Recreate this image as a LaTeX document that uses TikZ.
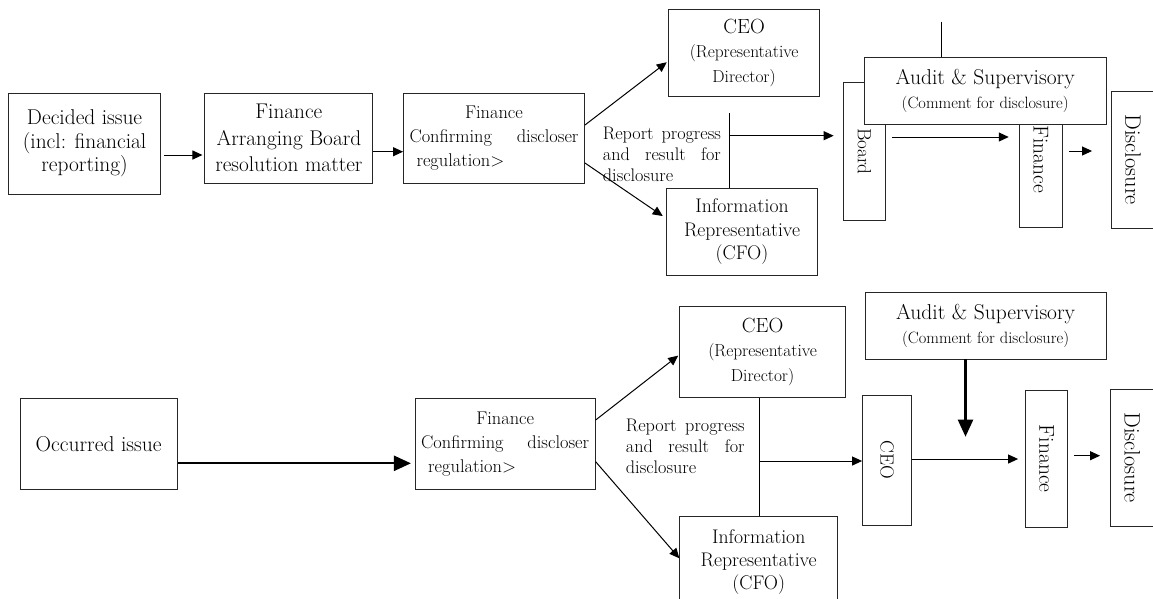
\documentclass[tikz,border=0pt]{standalone}
\usepackage{graphicx}
\usetikzlibrary{arrows.meta}

\begin{document}
\begin{tikzpicture}[x=1pt,y=-1pt,
  box/.style={draw=black!85,line width=0.9pt,fill=white,inner sep=0pt,align=center},
  txt/.style={inner sep=0pt,align=left,anchor=west,font=\fontsize{18.2}{21}\selectfont},
  arr/.style={-{Triangle[length=10pt,width=9pt]},line width=1pt},
  bigarr/.style={-{Triangle[length=17pt,width=15pt]},line width=2.3pt}]

            \useasboundingbox (0,0) rectangle (1153,598);
            \clip (0,0) rectangle (1153,598);

            \node[box,minimum width=152pt,minimum height=101pt,font=\fontsize{21.4}{23.5}\selectfont] (1) at (84.6,143.7) {Decided issue\\(incl: financial\\reporting)};
            \node[box,minimum width=168pt,minimum height=90pt,font=\fontsize{21.3}{26.5}\selectfont] (2) at (288.9,138.3) {Finance\\Arranging Board\\resolution matter};
            \node[box,minimum width=181pt,minimum height=90pt,font=\fontsize{18.4}{24}\selectfont] (3) at (494,138.3) {Finance\\\hbox to 169pt{Confirming\hfill discloser}\\\hbox to 169pt{\hspace{7pt}regulation\textgreater\hfill}};
            \node[box,minimum width=150.6pt,minimum height=87.4pt,font=\fontsize{17.4}{24.5}\selectfont] (4) at (744.1,53) {{\fontsize{20.5}{24.5}\selectfont CEO}\\(Representative\\Director)};
            \node[box,minimum width=151pt,minimum height=86.7pt,font=\fontsize{19.7}{23.3}\selectfont] (5) at (742,231.7) {Information\\Representative\\(CFO)};
            \node[txt] (6) at (602.7,154) {\hbox to 118pt{Report progress}\\\hbox to 118pt{and\hfill result\hfill for}\\disclosure};
            \node[box,minimum width=42.8pt,minimum height=137.3pt,font=\fontsize{19.1}{22}\selectfont] (7) at (864.5,151.3) {\rotatebox{-90}{Board}};
            \node[box,minimum width=43.2pt,minimum height=136.7pt,font=\fontsize{21.5}{24}\selectfont] (8) at (1040.8,159.3) {\rotatebox{-90}{Finance}};
            \node[box,minimum width=43pt,minimum height=137.3pt,font=\fontsize{22.3}{24}\selectfont] (9) at (1133,159.7) {\rotatebox{-90}{Disclosure}};
            \node[box,minimum width=242pt,minimum height=66.7pt,font=\fontsize{16.4}{24.3}\selectfont] (10) at (985.2,90.7) {{\fontsize{21.5}{24.3}\selectfont Audit \& Supervisory}\\(Comment for disclosure)};

            \draw[arr,shorten <=3pt,shorten >=2pt] (1.east |- 0,155) -- (2.west |- 0,155);
            \draw[arr] (2.east |- 0,151.7) -- (3.west |- 0,151.7);
            \draw[arr,shorten >=2pt] (3.east |- 0,125) -- (4.west |- 0,61);
            \draw[arr,shorten >=4pt] (3.east |- 0,163) -- (5.west |- 0,218.3);
            \coordinate (a) at (729.8,113.3);
            \draw[line width=1pt] (a) -- (a |- 5.north);
            \draw[arr,shorten >=9pt] (a |- 0,135.7) -- (7.west |- 0,135.7);
            \coordinate (b) at (941,21.7);
            \draw[line width=1pt] (b) -- (b |- 10.north);
            \draw[arr,shorten <=6pt,shorten >=10pt] (7.east |- 0,137) -- (8.west |- 0,137);
            \draw[arr,shorten <=6.6pt,shorten >=19pt] (8.east |- 0,151) -- (9.west |- 0,151);

            \node[box,minimum width=157.3pt,minimum height=90.7pt,font=\fontsize{21.5}{23.5}\selectfont] (11) at (98.6,443.7) {Occurred issue};
            \node[box,minimum width=180pt,minimum height=90.7pt,font=\fontsize{18.4}{24}\selectfont] (12) at (505.2,443.7) {Finance\\\hbox to 168pt{Confirming\hfill discloser}\\\hbox to 168pt{\hspace{7pt}regulation\textgreater\hfill}};
            \node[box,minimum width=166.3pt,minimum height=90.6pt,font=\fontsize{17.4}{24.5}\selectfont] (13) at (762.6,352) {{\fontsize{20.5}{24.5}\selectfont CEO}\\(Representative\\Director)};
            \node[box,minimum width=157.8pt,minimum height=90.6pt,font=\fontsize{19.7}{23.3}\selectfont] (14) at (758.7,562) {Information\\Representative\\(CFO)};
            \node[txt] (15) at (625.7,446.7) {\hbox to 118.7pt{Report progress}\\\hbox to 118.7pt{and\hfill result\hfill for}\\disclosure};
            \node[box,minimum width=48.9pt,minimum height=130pt,font=\fontsize{19}{22}\selectfont] (16) at (887,460) {\rotatebox{-90}{CEO}};
            \node[box,minimum width=241.2pt,minimum height=66.3pt,font=\fontsize{16.4}{24.3}\selectfont] (17) at (985.6,325.8) {{\fontsize{21.5}{24.3}\selectfont Audit \& Supervisory}\\(Comment for disclosure)};
            \node[box,minimum width=42.7pt,minimum height=137.3pt,font=\fontsize{21.5}{24}\selectfont] (18) at (1046.5,458.7) {\rotatebox{-90}{Finance}};
            \node[box,minimum width=43.6pt,minimum height=136.7pt,font=\fontsize{22.3}{24}\selectfont] (19) at (1132.3,457.7) {\rotatebox{-90}{Disclosure}};

            \draw[bigarr,shorten >=3.8pt] (11.east |- 0,463.3) -- (12.west |- 0,463.3);
            \draw[arr,shorten >=1pt] (12.east |- 0,420) -- (13.west |- 0,355);
            \draw[arr] (12.east |- 0,461.7) -- (14.west |- 0,558.3);
            \coordinate (c) at (759,461);
            \draw[line width=1pt] (c |- 13.south) -- (c |- 14.north);
            \draw[arr] (c) -- (16.west |- c);
            \coordinate (d) at (965.5,436.7);
            \draw[bigarr] (17.south -| d) -- (d);
            \draw[arr,shorten >=6.6pt] (16.east |- 0,459) -- (18.west |- 0,459);
            \draw[arr,shorten <=5.5pt,shorten >=10pt] (18.east |- 0,455.7) -- (19.west |- 0,455.7);

            ;
        \end{tikzpicture}
\end{document}
